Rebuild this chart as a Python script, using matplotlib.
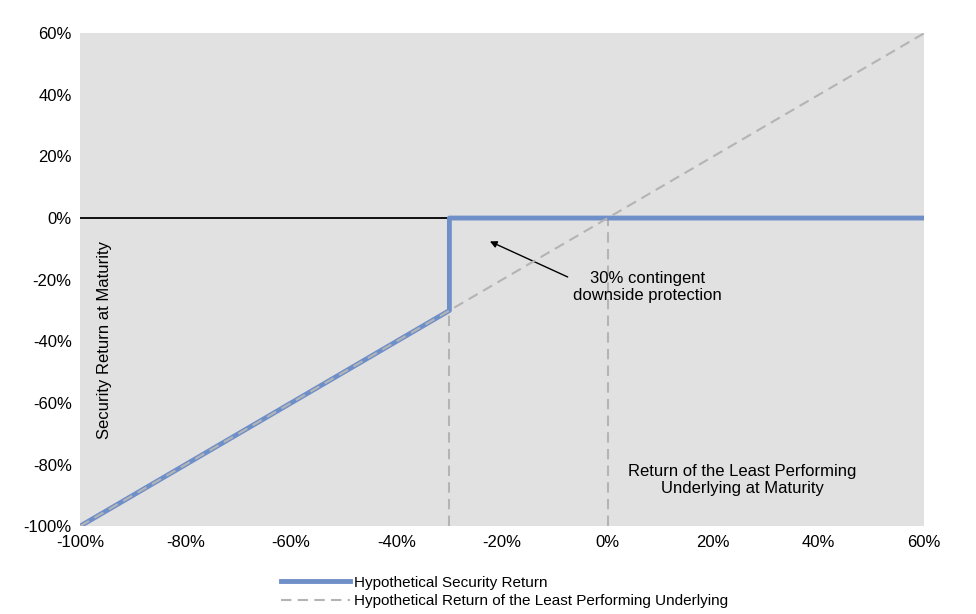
import matplotlib
matplotlib.use("Agg")
import matplotlib.pyplot as plt

plt.rcParams['font.family'] = ['Liberation Sans', 'DejaVu Sans']

sec_x = [-100, -30, -30, 60]
sec_y = [-100, -30, 0, 0]
und_x = [-100, 60]
und_y = [-100, 60]
barrier = -30
xticks = list(range(-100, 61, 20))
yticks = list(range(-100, 61, 20))

fig = plt.figure(figsize=(9.76, 6.14), dpi=100)
ax = fig.add_axes([0.082, 0.143, 0.865, 0.803])
ax.set_facecolor('#E1E1E1')
ax.set_xlim(-100, 60)
ax.set_ylim(-100, 60)

ax.axhline(0, color='black', lw=1.3, zorder=2)
ax.plot([barrier, barrier], [-100, 0], color='#B4B4B4', lw=1.5, ls=(0, (5, 3)), zorder=2)
ax.plot([0, 0], [-100, 0], color='#B4B4B4', lw=1.5, ls=(0, (5, 3)), zorder=2)
l1, = ax.plot(sec_x, sec_y, color='#6F8FC9', lw=3.5, zorder=3, label='Hypothetical Security Return')
l2, = ax.plot(und_x, und_y, color='#B4B4B4', lw=1.5, ls=(0, (5, 3)), zorder=4,
              label='Hypothetical Return of the Least Performing Underlying')

ax.set_xticks(xticks)
ax.set_xticklabels([f'{v}%' for v in xticks], fontsize=12)
ax.set_yticks(yticks)
ax.set_yticklabels([f'{v}%' for v in yticks], fontsize=12)
ax.tick_params(length=0, pad=6)
for s in ax.spines.values():
    s.set_visible(False)

ax.text(-95.3, -39.6, 'Security Return at Maturity', rotation=90, ha='center', va='center', fontsize=12)
ax.text(25.5, -85, 'Return of the Least Performing\nUnderlying at Maturity', ha='center', va='center', fontsize=12)
ax.text(7.5, -22.4, '30% contingent\ndownside protection', ha='center', va='center', fontsize=12)
ax.annotate('', xy=(-22.8, -7.2), xytext=(-7.1, -19.5),
            arrowprops=dict(arrowstyle='-|>', color='black', lw=1))

fig.legend(handles=[l1, l2], loc='upper left', bbox_to_anchor=(0.28, 0.075), frameon=False,
           fontsize=11, handlelength=4.5, borderpad=0, labelspacing=0.3, handletextpad=0.3)
fig.savefig('out.png', dpi=100)
